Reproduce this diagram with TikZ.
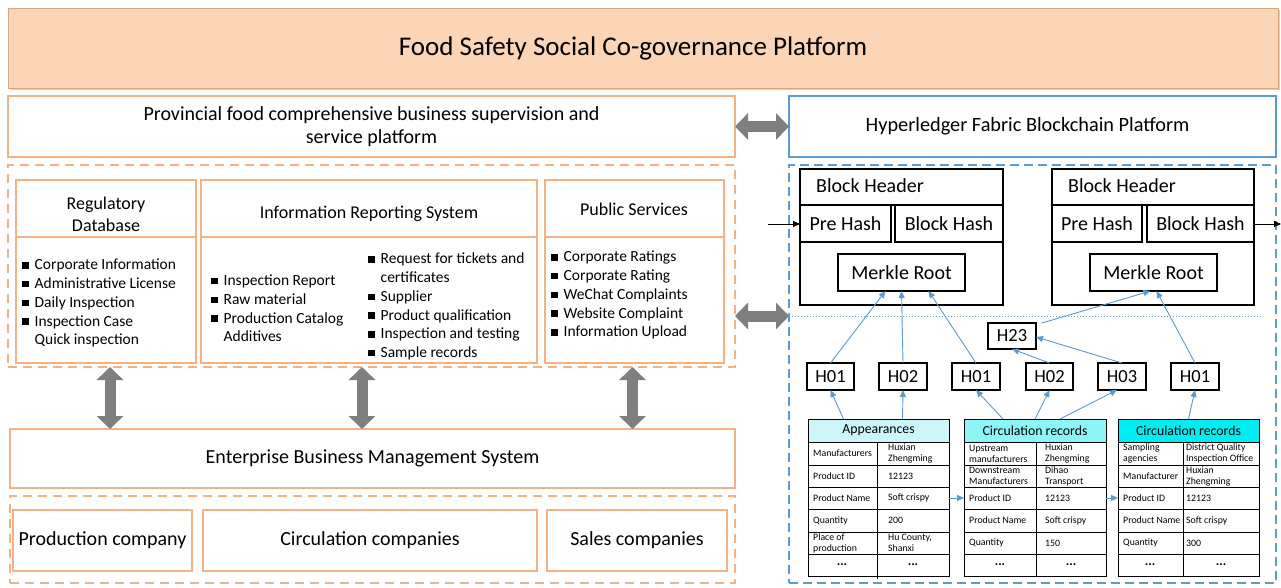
\documentclass[tikz,border=0pt]{standalone}
\usepackage{fontspec}
\setmainfont{Carlito}
\usetikzlibrary{arrows.meta,shadows}
\definecolor{peach}{HTML}{FBD5B5}
\definecolor{peachdk}{HTML}{D9A77E}
\definecolor{orb}{HTML}{F4B183}
\definecolor{blb}{HTML}{5B9BD5}
\definecolor{garr}{HTML}{7F7F7F}
\definecolor{cyA}{HTML}{CCF6FA}
\definecolor{cyB}{HTML}{8CF5F7}
\definecolor{cyC}{HTML}{00EEF2}
\newcommand{\bsq}{\rule[1.2pt]{6.5pt}{6.5pt}}
\newcommand{\rect}[7][]{\node[rectangle, inner sep=0pt, outer sep=0pt, minimum width={(#5-#3)*1pt}, minimum height={(#6-#4)*1pt}, #1] (#2) at ({(#3+#5)/2},{(#4+#6)/2}) {#7};}
\tikzset{
  banner/.style={fill=peach, draw=peachdk, line width=1pt, drop shadow={shadow xshift=2pt, shadow yshift=-2pt, opacity=0.35}, font=\fontsize{27}{32}\selectfont},
  obox/.style={draw=orb, line width=1.3pt, fill=white},
  bbox/.style={draw=blb, line width=1.3pt, fill=white},
  odash/.style={draw=orb, line width=1.5pt, dash pattern=on 9pt off 6pt},
  bdash/.style={draw=blb, line width=1.5pt, dash pattern=on 9pt off 5pt},
  hd/.style={font=\fontsize{18}{22}\selectfont, align=center, inner sep=0pt},
  blist/.style={font=\fontsize{15.5}{18.75}\selectfont, inner sep=0pt, anchor=west},
  big/.style={font=\fontsize{20}{23}\selectfont},
  blk/.style={draw=black, line width=1.3pt, font=\fontsize{20}{22}\selectfont},
  hb/.style={draw=black, line width=1.3pt, font=\fontsize{18.5}{20}\selectfont},
  garrow/.style={draw=garr, line width=11pt, {Triangle[length=13pt,width=26pt]}-{Triangle[length=13pt,width=26pt]}},
  barrow/.style={draw=blb, line width=0.9pt, -{Triangle[length=7pt,width=6pt]}},
  karrow/.style={draw=black, line width=0.9pt, -{Triangle[length=7pt,width=6pt]}},
  tline/.style={draw=black, line width=0.9pt},
  tcell/.style={font=\fontsize{9.8}{11}\selectfont, inner sep=0pt, align=left},
  tdots/.style={font=\fontsize{13}{14}\selectfont\bfseries, inner sep=0pt},
  thead/.style={draw=black, line width=0.9pt, font=\fontsize{13.8}{15}\selectfont},
}
\begin{document}
\begin{tikzpicture}[x=1pt, y=-1pt]
\useasboundingbox[fill=white] (0,0) rectangle (1281,587);

% top banner
\rect[banner]{top}{8}{8}{1278}{88}{\hspace*{-20pt}Food Safety Social Co-governance Platform}

% second row
\rect[obox, big, align=center]{prov}{8}{96}{735}{157}{Provincial food comprehensive business supervision and\\service platform}
\rect[bbox, font=\fontsize{20.3}{22}\selectfont]{hyp}{789}{96}{1276}{157}{\hspace*{-10pt}Hyperledger Fabric Blockchain Platform}

% left dashed container
\rect[odash]{cont1}{8}{165}{735}{367}{}
\rect[obox]{regdb}{16}{180}{196}{363}{}
\rect[obox]{irs}{201}{180}{537}{363}{}
\rect[obox]{pubs}{545}{180}{724}{363}{}
\draw[orb, line width=1.3pt] (16,237) -- (196,237);
\draw[orb, line width=1.3pt] (201,237) -- (537,237);
\draw[orb, line width=1.3pt] (545,237) -- (724,237);
\node[hd] (regdbh) at (106,214) {Regulatory\\Database};
\node[hd] (irsh) at (369,214) {Information Reporting System};
\node[hd] (pubsh) at (634,209) {Public Services};

\node[blist] (l1) at (22,303.5) {\begin{tabular}{@{}l@{\hspace{6pt}}l@{}}
\bsq & Corporate Information\\ \bsq & Administrative License\\ \bsq & Daily Inspection\\ \bsq & Inspection Case\\ & Quick inspection\end{tabular}};
\node[blist] (l2) at (211,310) {\begin{tabular}{@{}l@{\hspace{6pt}}l@{}}
\bsq & Inspection Report\\ \bsq & Raw material\\ \bsq & Production Catalog\\ & Additives\end{tabular}};
\node[blist] (l3) at (368,307) {\begin{tabular}{@{}l@{\hspace{6pt}}l@{}}
\bsq & Request for tickets and\\ & certificates\\ \bsq & Supplier\\ \bsq & Product qualification\\ \bsq & Inspection and testing\\ \bsq & Sample records\end{tabular}};
\node[blist] (l4) at (551,295.5) {\begin{tabular}{@{}l@{\hspace{6pt}}l@{}}
\bsq & Corporate Ratings\\ \bsq & Corporate Rating\\ \bsq & WeChat Complaints\\ \bsq & Website Complaint\\ \bsq & Information Upload\end{tabular}};

% enterprise
\rect[obox, big]{ent}{10}{429}{735}{488}{Enterprise Business Management System}
\rect[odash]{cont2}{10}{496}{735}{583}{}
\rect[obox, big]{prod}{13}{510}{192}{571}{Production company}
\rect[obox, big]{circ}{203}{510}{537}{571}{Circulation companies}
\rect[obox, big]{sales}{547}{510}{727}{571}{Sales companies}

% gray arrows
\draw[garrow] (prov.east) -- (hyp.west);
\coordinate (ga) at (735,316);
\coordinate (gb) at (789,316);
\draw[garrow] (ga) -- (gb);
\draw[garrow] ([xshift=4pt]regdb.south |- cont1.south) -- ([xshift=4pt]regdb.south |- ent.north);
\draw[garrow] ([xshift=-7pt]irs.south |- cont1.south) -- ([xshift=-7pt]irs.south |- ent.north);
\draw[garrow] ([xshift=-2pt]pubs.south |- cont1.south) -- ([xshift=-2pt]pubs.south |- ent.north);

% right container
\rect[bdash]{cont3}{789}{165}{1276}{583}{}
\draw[blb, dotted, line width=1pt] (792,316) -- (1262,316);

% blocks
\rect[blk]{b1}{800}{169}{1003}{305}{}
\rect[blk]{b1hd}{800}{169}{1003}{205}{}
\node[anchor=west, font=\fontsize{20}{22}\selectfont, inner sep=0pt] (b1t) at (816,186) {Block Header};
\rect[blk]{b1p}{800}{205}{891}{242}{Pre Hash}
\rect[blk]{b1b}{895}{205}{1003}{242}{Block Hash}
\rect[blk]{b1m}{838}{254}{965}{291}{Merkle Root}

\rect[blk]{b2}{1052}{169}{1254}{305}{}
\rect[blk]{b2hd}{1052}{169}{1254}{205}{}
\node[anchor=west, font=\fontsize{20}{22}\selectfont, inner sep=0pt] (b2t) at (1068,186) {Block Header};
\rect[blk]{b2p}{1052}{205}{1142}{242}{Pre Hash}
\rect[blk]{b2b}{1147}{205}{1254}{242}{Block Hash}
\rect[blk]{b2m}{1090}{254}{1217}{291}{Merkle Root}

\coordinate (cin) at (768,224);
\coordinate (cout) at (1281,224);
\draw[karrow] (cin) -- (b1p.west |- cin);
\draw[karrow] (b2b.east |- cout) -- (cout);

% hash nodes
\rect[hb]{h23}{988}{323}{1036}{349}{H23}
\rect[hb]{ha1}{807}{363}{854}{390}{H01}
\rect[hb]{ha2}{879}{363}{927}{390}{H02}
\rect[hb]{hb1}{952}{363}{1000}{390}{H01}
\rect[hb]{hb2}{1026}{363}{1073}{390}{H02}
\rect[hb]{hb3}{1098}{363}{1146}{390}{H03}
\rect[hb]{hc1}{1171}{363}{1219}{390}{H01}

\draw[barrow] (ha1.north) -- ([xshift=-16pt]b1m.south);
\draw[barrow] (ha2.north) -- ([xshift=0pt]b1m.south);
\draw[barrow] (hb1.north) -- ([xshift=27pt]b1m.south);
\draw[barrow] ([xshift=6pt]h23.north east) -- ([xshift=-3pt]b2m.south);
\draw[barrow] (hc1.north) -- ([xshift=3pt]b2m.south);
\draw[barrow] (hb2.north) -- (h23.south);
\draw[barrow] (hb3.north) -- ([yshift=-1pt]h23.east);

% tables
\rect[thead, fill=cyA]{t1h}{808}{419}{949}{442}{Appearances}
\rect[tline]{t1}{808}{442}{949}{576}{}
\rect[thead, fill=cyB]{t2h}{964}{419}{1106}{442}{Circulation records}
\rect[tline]{t2}{964}{442}{1106}{576}{}
\rect[thead, fill=cyC]{t3h}{1118}{419}{1259}{442}{Circulation records}
\rect[tline]{t3}{1118}{442}{1259}{576}{}
\foreach \y in {465,487,509,532,554} {
  \draw[tline] (808,\y) -- (949,\y);
  \draw[tline] (964,\y) -- (1106,\y);
  \draw[tline] (1118,\y) -- (1259,\y);
}
\draw[tline] (877,442) -- (877,579);
\draw[tline] (1036,442) -- (1036,576);
\draw[tline] (1183,442) -- (1183,576);

\foreach \y/\l/\r [count=\i] in {453.5/{Manufacturers}/{Huxian\\Zhengming}, 476/{Product ID}/{12123}, 498/{Product Name}/{Soft crispy}, 520.5/{Quantity}/{200}, 543/{Place of\\production}/{Hu County,\\Shanxi}} {
  \node[tcell, anchor=west] (t1l\i) at (813,\y) {\l};
  \node[tcell, anchor=west] (t1r\i) at (888,\y) {\r};
}
\node[tdots] (t1l6) at (842,565) {...};
\node[tdots] (t1r6) at (913,565) {...};
\foreach \y/\l/\r [count=\i] in {453.5/{Upstream\\manufacturers}/{Huxian\\Zhengming}, 476/{Downstream\\Manufacturers}/{Dihao\\Transport}, 498/{Product ID}/{12123}, 520.5/{Product Name}/{Soft crispy}, 543/{Quantity}/{150}} {
  \node[tcell, anchor=west] (t2l\i) at (969,\y) {\l};
  \node[tcell, anchor=west] (t2r\i) at (1045,\y) {\r};
}
\node[tdots] (t2l6) at (1000,565) {...};
\node[tdots] (t2r6) at (1071,565) {...};
\foreach \y/\l/\r [count=\i] in {453.5/{Sampling\\agencies}/{District Quality\\Inspection Office}, 476/{Manufacturer}/{Huxian\\Zhengming}, 498/{Product ID}/{12123}, 520.5/{Product Name}/{Soft crispy}, 543/{Quantity}/{300}} {
  \node[tcell, anchor=west] (t3l\i) at (1123,\y) {\l};
  \node[tcell, anchor=west] (t3r\i) at (1186,\y) {\r};
}
\node[tdots] (t3l6) at (1150,565) {...};
\node[tdots] (t3r6) at (1221,565) {...};

\draw[barrow] ([yshift=11pt]t1.east) -- ([yshift=11pt]t2.west);
\draw[barrow] ([yshift=11pt]t2.east) -- ([yshift=11pt]t3.west);

\draw[barrow] ([xshift=-35pt]t1h.north) -- (ha1.south);
\draw[barrow] ([xshift=24pt]t1h.north) -- (ha2.south);
\draw[barrow] ([xshift=-32pt]t2h.north) -- (hb1.south);
\draw[barrow] ([xshift=0pt]t2h.north) -- (hb2.south);
\draw[barrow] ([xshift=25pt]t2h.north) -- ([xshift=-5pt]hb3.south);
\draw[barrow] ([xshift=0pt]t3h.north) -- (hc1.south);
\end{tikzpicture}
\end{document}
